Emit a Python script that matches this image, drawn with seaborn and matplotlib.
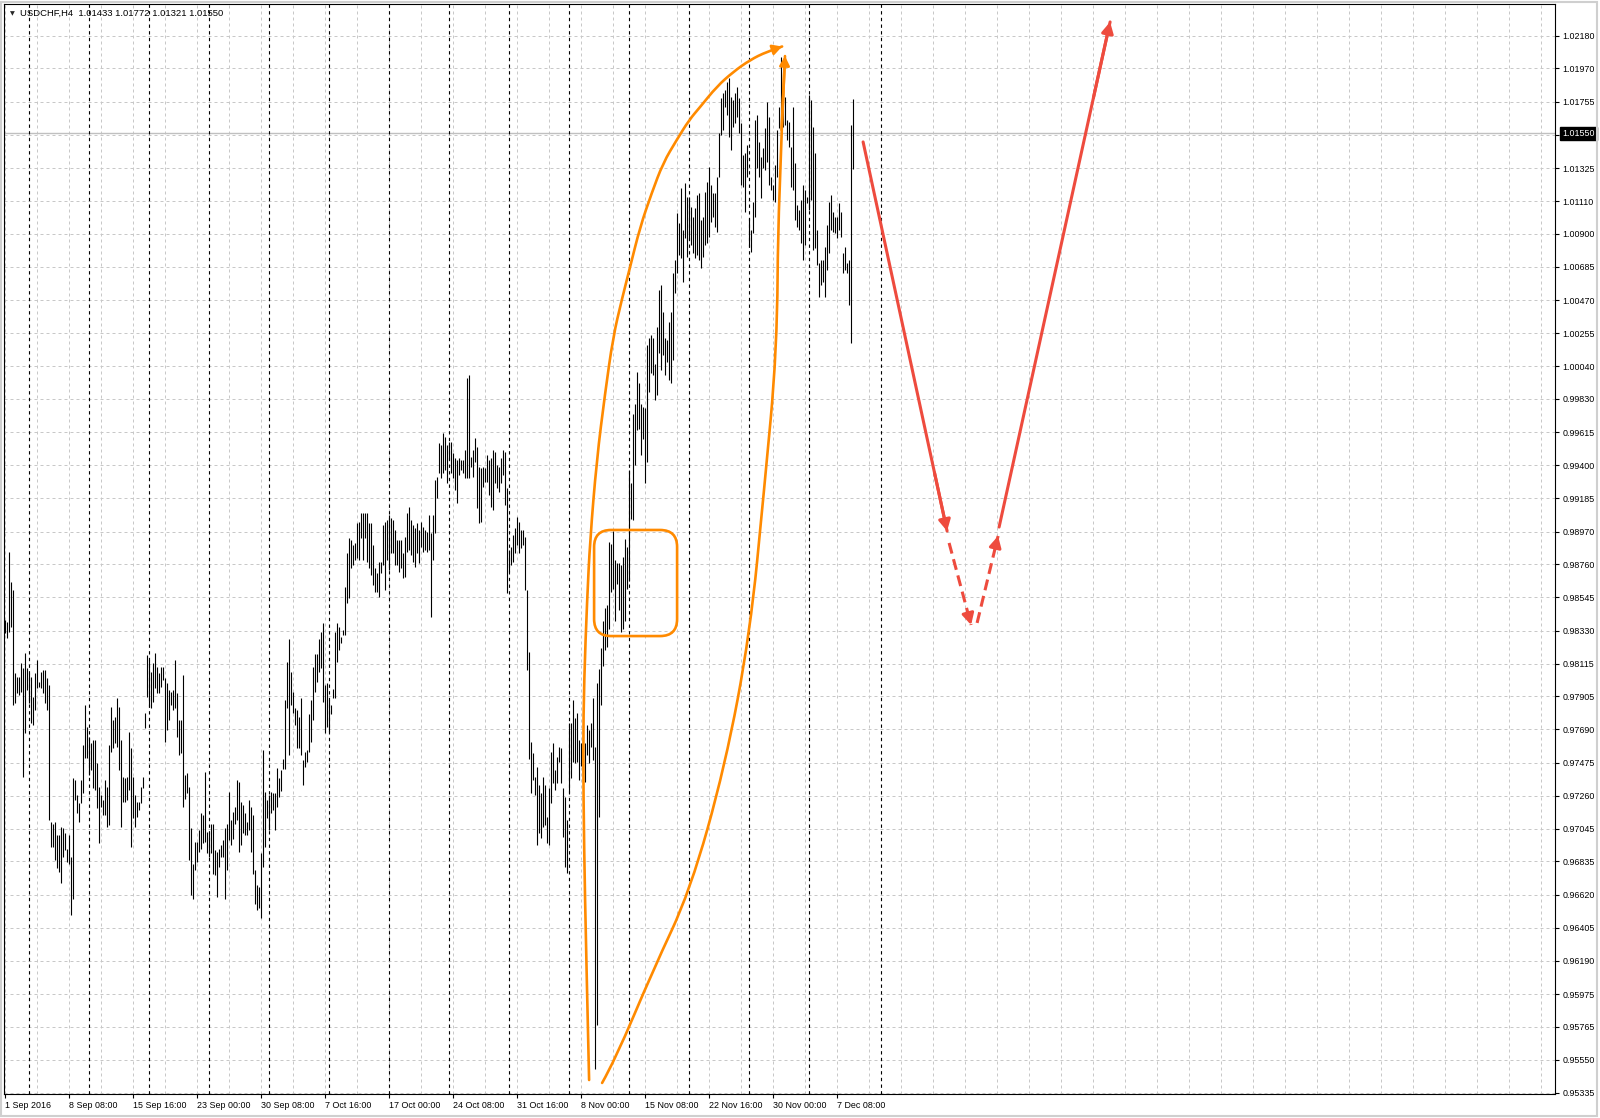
import numpy as np
import pandas as pd
import seaborn as sns
import matplotlib.pyplot as plt
from matplotlib.patches import FancyBboxPatch, Rectangle, PathPatch
from matplotlib.path import Path

sns.set_theme(style='white')
plt.rcParams['font.family'] = ['Liberation Sans', 'DejaVu Sans']

symbol = 'USDCHF,H4'
last_ohlc = [1.01433, 1.01772, 1.01321, 1.01550]
bid = 1.01550
first_day = '2016-09-01'
future_separator = 438

# H4 bars, high / low (1 Sep 2016 -> 8 Dec 2016)
highs = [
    0.98398, 0.98387, 0.98841, 0.98646, 0.98592, 0.98052, 0.98031, 0.98031, 0.98117, 0.98085,
    0.98182, 0.98085, 0.98052, 0.98031, 0.97901, 0.98052, 0.98139, 0.97998, 0.98063, 0.98074,
    0.98074, 0.98020, 0.97977, 0.97091, 0.97080, 0.97091, 0.97005, 0.97005, 0.97059, 0.97048,
    0.97016, 0.96918, 0.97005, 0.96864, 0.97372, 0.97361, 0.97264, 0.97210, 0.97361, 0.97588,
    0.97847, 0.97707, 0.97642, 0.97599, 0.97620, 0.97620, 0.97469, 0.97318, 0.97264, 0.97232,
    0.97361, 0.97318, 0.97588, 0.97836, 0.97750, 0.97772, 0.97890, 0.97836, 0.97620, 0.97383,
    0.97372, 0.97383, 0.97674, 0.97566, 0.97383, 0.97264, 0.97221, 0.97221, 0.97318, 0.97383,
    0.97793, 0.98171, 0.98139, 0.98063, 0.98117, 0.98182, 0.98096, 0.98052, 0.98096, 0.98096,
    0.98020, 0.97988, 0.97944, 0.97934, 0.97944, 0.98139, 0.97923, 0.97750, 0.97750, 0.98042,
    0.97394, 0.97404, 0.97318, 0.97048, 0.96821, 0.96962, 0.96962, 0.97037, 0.97145, 0.97134,
    0.97415, 0.97026, 0.97026, 0.97080, 0.97080, 0.96908, 0.96897, 0.96918, 0.96940, 0.96972,
    0.97048, 0.97080, 0.97286, 0.97102, 0.97156, 0.97188, 0.97361, 0.97350, 0.97221, 0.97199,
    0.97145, 0.97091, 0.97232, 0.97188, 0.97134, 0.96778, 0.96681, 0.96670, 0.96886, 0.97556,
    0.97286, 0.97232, 0.97264, 0.97286, 0.97275, 0.97275, 0.97437, 0.97372, 0.97425, 0.97501,
    0.97879, 0.98127, 0.98278, 0.98062, 0.97933, 0.97825, 0.97814, 0.97771, 0.97890, 0.97490,
    0.97544, 0.97555, 0.97792, 0.97879, 0.98095, 0.98181, 0.98181, 0.98278, 0.98322, 0.98376,
    0.97976, 0.97987, 0.97879, 0.97846, 0.97954, 0.98322, 0.98376, 0.98354, 0.98289, 0.98333,
    0.98613, 0.98829, 0.98926, 0.98916, 0.98883, 0.98894, 0.99024, 0.99034, 0.99088, 0.99088,
    0.99088, 0.99088, 0.99024, 0.99024, 0.98883, 0.98732, 0.98700, 0.98775, 0.98775, 0.99013,
    0.99034, 0.99045, 0.99078, 0.99056, 0.99045, 0.98980, 0.98916, 0.98916, 0.98916, 0.98829,
    0.98937, 0.99088, 0.99132, 0.99045, 0.99013, 0.98991, 0.99024, 0.98980, 0.99034, 0.99002,
    0.98980, 0.98970, 0.99078, 0.98959, 0.99078, 0.99304, 0.99326, 0.99542, 0.99531, 0.99607,
    0.99585, 0.99531, 0.99553, 0.99553, 0.99477, 0.99445, 0.99434, 0.99445, 0.99434, 0.99434,
    0.99499, 0.99963, 0.99985, 0.99456, 0.99499, 0.99574, 0.99520, 0.99391, 0.99380, 0.99391,
    0.99380, 0.99466, 0.99434, 0.99445, 0.99499, 0.99488, 0.99402, 0.99391, 0.99445, 0.99499,
    0.99488, 0.99250, 0.98851, 0.98872, 0.98948, 0.98991, 0.99067, 0.99034, 0.98980, 0.98980,
    0.98937, 0.98592, 0.98192, 0.97610, 0.97535, 0.97384, 0.97448, 0.97329, 0.97275, 0.97384,
    0.97329, 0.97124, 0.97308, 0.97545, 0.97599, 0.97427, 0.97513, 0.97578, 0.97567, 0.97308,
    0.97254, 0.97103, 0.97729, 0.97729, 0.97880, 0.97761, 0.97794, 0.97621, 0.97600, 0.97524,
    0.97600, 0.97718, 0.97686, 0.97729, 0.97891, 0.97578, 0.97988, 0.98083, 0.98219, 0.98390,
    0.98478, 0.98495, 0.98905, 0.98888, 0.98974, 0.98786, 0.98769, 0.98769, 0.98752, 0.98803,
    0.98923, 0.98871, 0.99368, 0.99282, 0.99735, 0.99800, 1.00005, 0.99930, 0.99800, 0.99779,
    0.99768, 1.00178, 1.00221, 1.00243, 1.00221, 1.00059, 1.00297, 1.00535, 1.00567, 1.00394,
    1.00221, 1.00211, 1.00329, 1.00394, 1.00643, 1.00729, 1.01031, 1.00967, 1.01193, 1.00923,
    1.01226, 1.01139, 1.01139, 1.01075, 1.01010, 1.01064, 1.01150, 1.01161, 1.00988, 1.01010,
    1.01172, 1.01237, 1.01334, 1.01215, 1.01161, 1.01161, 1.01269, 1.01549, 1.01776, 1.01809,
    1.01830, 1.01884, 1.01906, 1.01787, 1.01765, 1.01809, 1.01852, 1.01776, 1.01614, 1.01409,
    1.01420, 1.01474, 1.00999, 1.00923, 1.01107, 1.01636, 1.01668, 1.01495, 1.01398, 1.01452,
    1.01582, 1.01755, 1.01657, 1.01269, 1.01215, 1.01344, 1.01571, 1.01722, 1.02046, 1.01884,
    1.01787, 1.01636, 1.01625, 1.01463, 1.01722, 1.01355, 1.01085, 1.01053, 1.01117, 1.01215,
    1.01182, 1.01139, 1.01798, 1.01765, 1.01593, 1.01420, 1.00923, 1.00707, 1.00729, 1.00729,
    1.00815, 1.00955, 1.01107, 1.01150, 1.01042, 1.01009, 1.01009, 1.01096, 1.01042, 1.00772,
    1.00815, 1.00707, 1.00729, 1.01603, 1.01772,
]
lows = [
    0.98312, 0.98279, 0.98322, 0.98355, 0.97847, 0.97858, 0.97923, 0.97912, 0.97934, 0.97383,
    0.97664, 0.97944, 0.97858, 0.97728, 0.97718, 0.97815, 0.97955, 0.97966, 0.97955, 0.97923,
    0.97858, 0.97815, 0.97102, 0.96929, 0.96929, 0.96843, 0.96789, 0.96767, 0.96692, 0.96864,
    0.96908, 0.96832, 0.96821, 0.96486, 0.96594, 0.97232, 0.97145, 0.97091, 0.97210, 0.97275,
    0.97502, 0.97502, 0.97394, 0.97426, 0.97307, 0.97296, 0.97178, 0.96951, 0.97188, 0.97134,
    0.97134, 0.97059, 0.97070, 0.97545, 0.97566, 0.97599, 0.97577, 0.97426, 0.97059, 0.97221,
    0.97221, 0.97232, 0.97296, 0.96929, 0.97113, 0.97059, 0.97124, 0.97167, 0.97210, 0.97307,
    0.97696, 0.97901, 0.97836, 0.97826, 0.97869, 0.97955, 0.97923, 0.97923, 0.97966, 0.98009,
    0.97610, 0.97685, 0.97750, 0.97847, 0.97815, 0.97826, 0.97642, 0.97523, 0.97534, 0.97188,
    0.97242, 0.97275, 0.96843, 0.96616, 0.96594, 0.96778, 0.96832, 0.96897, 0.96918, 0.96951,
    0.96962, 0.96886, 0.96864, 0.96886, 0.96756, 0.96746, 0.96605, 0.96800, 0.96864, 0.96864,
    0.96594, 0.96778, 0.96972, 0.96940, 0.96983, 0.97080, 0.97102, 0.96897, 0.96940, 0.97016,
    0.97005, 0.97005, 0.97037, 0.96897, 0.96756, 0.96562, 0.96519, 0.96530, 0.96465, 0.96800,
    0.96929, 0.97113, 0.97037, 0.97145, 0.97167, 0.97037, 0.97188, 0.97253, 0.97290, 0.97436,
    0.97436, 0.97825, 0.97522, 0.97846, 0.97793, 0.97717, 0.97566, 0.97566, 0.97522, 0.97330,
    0.97447, 0.97479, 0.97544, 0.97609, 0.97749, 0.97933, 0.97998, 0.98062, 0.98084, 0.97868,
    0.97663, 0.97706, 0.97674, 0.97792, 0.97890, 0.97890, 0.98127, 0.98203, 0.98246, 0.98300,
    0.98300, 0.98505, 0.98538, 0.98732, 0.98754, 0.98786, 0.98797, 0.98786, 0.98926, 0.98786,
    0.98926, 0.98775, 0.98732, 0.98689, 0.98624, 0.98581, 0.98581, 0.98548, 0.98700, 0.98754,
    0.98592, 0.98786, 0.98721, 0.98829, 0.98829, 0.98754, 0.98754, 0.98710, 0.98732, 0.98667,
    0.98678, 0.98840, 0.98851, 0.98818, 0.98775, 0.98743, 0.98829, 0.98764, 0.98872, 0.98840,
    0.98851, 0.98840, 0.98851, 0.98419, 0.98786, 0.98959, 0.99186, 0.99348, 0.99315, 0.99348,
    0.99369, 0.99283, 0.99434, 0.99348, 0.99315, 0.99240, 0.99153, 0.99337, 0.99369, 0.99348,
    0.99315, 0.99315, 0.99315, 0.99391, 0.99326, 0.99423, 0.99121, 0.99024, 0.99034, 0.99261,
    0.99294, 0.99294, 0.99207, 0.99132, 0.99110, 0.99283, 0.99250, 0.99229, 0.99283, 0.99337,
    0.99142, 0.98570, 0.98710, 0.98754, 0.98775, 0.98829, 0.98883, 0.98829, 0.98862, 0.98883,
    0.98592, 0.98073, 0.97501, 0.97276, 0.97362, 0.97265, 0.96941, 0.97016, 0.96984, 0.97059,
    0.97070, 0.96951, 0.96941, 0.97210, 0.97340, 0.97297, 0.97340, 0.97480, 0.97340, 0.96995,
    0.96800, 0.96757, 0.97275, 0.97372, 0.97480, 0.97470, 0.97480, 0.97362, 0.97450, 0.97405,
    0.97351, 0.97524, 0.97470, 0.97578, 0.97491, 0.95493, 0.95774, 0.97124, 0.97848, 0.98101,
    0.98204, 0.98221, 0.98341, 0.98580, 0.98597, 0.98392, 0.98632, 0.98460, 0.98323, 0.98341,
    0.98392, 0.98597, 0.98650, 0.99055, 0.99044, 0.99401, 0.99627, 0.99638, 0.99465, 0.99573,
    0.99282, 0.99422, 0.99876, 0.99995, 0.99984, 0.99822, 0.99854, 1.00124, 1.00016, 1.00113,
    0.99984, 1.00070, 0.99951, 0.99930, 1.00081, 1.00513, 1.00643, 1.00761, 1.00740, 1.00589,
    1.00869, 1.00751, 1.00859, 1.00826, 1.00772, 1.00740, 1.00761, 1.00729, 1.00675, 1.00751,
    1.00826, 1.00837, 1.00880, 1.00977, 1.01009, 1.00945, 1.00912, 1.01269, 1.01539, 1.01571,
    1.01722, 1.01668, 1.01528, 1.01441, 1.01593, 1.01614, 1.01657, 1.01549, 1.01215, 1.01204,
    1.01042, 1.01269, 1.00815, 1.00783, 1.00901, 1.01009, 1.01323, 1.01269, 1.01128, 1.01323,
    1.01312, 1.01366, 1.01215, 1.01182, 1.01117, 1.01107, 1.01269, 1.01582, 1.01582, 1.01593,
    1.01603, 1.01506, 1.01463, 1.01204, 1.01182, 1.00988, 1.00945, 1.00923, 1.00837, 1.00729,
    1.00826, 1.01096, 1.01053, 1.01117, 1.00793, 1.00804, 1.00696, 1.00491, 1.00567, 1.00588,
    1.00491, 1.00664, 1.00772, 1.00923, 1.00912, 1.00901, 1.00869, 1.00923, 1.00880, 1.00642,
    1.00664, 1.00642, 1.00437, 1.00189, 1.01321,
]

price_ticks = [1.02180, 1.01970, 1.01755, 1.01540, 1.01325, 1.01110, 1.00900, 1.00685,
               1.00470, 1.00255, 1.00040, 0.99830, 0.99615, 0.99400, 0.99185, 0.98970,
               0.98760, 0.98545, 0.98330, 0.98115, 0.97905, 0.97690, 0.97475, 0.97260,
               0.97045, 0.96835, 0.96620, 0.96405, 0.96190, 0.95975, 0.95765, 0.95550,
               0.95335]

# hand drawn annotations (bar index, price)
orange_up_left = [(291.9, 0.95419), (290.4, 0.96261), (289.4, 0.96909), (288.9, 0.97556),
                  (289.4, 0.98010), (290.9, 0.98528), (292.4, 0.98916), (295.7, 0.99434),
                  (299.9, 0.99868), (303.9, 1.00231), (308.2, 1.00470), (312.4, 1.00684),
                  (317.4, 1.00943), (323.2, 1.01163), (328.9, 1.01358), (335.7, 1.01507),
                  (341.9, 1.01636), (347.4, 1.01720), (355.7, 1.01852), (363.9, 1.01947),
                  (372.4, 1.02025), (380.7, 1.02078), (388.4, 1.02112)]
orange_up_right = [(298.4, 0.95400), (304.9, 0.95549), (323.9, 0.96131), (342.4, 0.96643),
                   (359.9, 0.97453), (372.4, 0.98314), (379.4, 0.99240), (385.9, 1.00147),
                   (386.4, 1.01092), (389.85, 1.02050)]
orange_box = [(294.4, 0.98294), (335.9, 0.98981)]
red_arrows = [((428.9, 1.01494), (470.9, 0.98974), '-'),
              ((471.9, 0.98897), (482.9, 0.98366), '--'),
              ((485.9, 0.98379), (496.4, 0.98942), '--'),
              ((496.9, 0.99000), (552.4, 1.02271), '-')]

W, H = 1600, 1118
n = len(highs)
idx = np.arange(n)

days = pd.bdate_range(first_day, periods=100)
times = [d + pd.Timedelta(hours=4 * h) for d in days for h in range(6)]
label_idx = list(range(0, n, 32))
labels = [f"{times[i].day} {times[i]:%b %Y}" if i == 0 else f"{times[i].day} {times[i]:%b %H:%M}"
          for i in label_idx]
week_idx = [i for i, t in enumerate(times[:n]) if t.weekday() == 0 and t.hour == 0]
week_idx.append(future_separator)


def smooth_path(pts):
    # quadratic bezier through the midpoints of the sketched points
    verts, codes = [pts[0]], [Path.MOVETO]
    for k in range(1, len(pts) - 1):
        if k < len(pts) - 2:
            end = ((pts[k][0] + pts[k + 1][0]) / 2, (pts[k][1] + pts[k + 1][1]) / 2)
        else:
            end = pts[k + 1]
        verts += [pts[k], end]
        codes += [Path.CURVE3, Path.CURVE3]
    return Path(verts, codes)


fig = plt.figure(figsize=(W / 100, H / 100), dpi=100)
fig.patch.set_facecolor('white')
ax = fig.add_axes([4.3 / W, 1 - 1094 / H, (1555 - 4.3) / W, (1094 - 4) / H])
ax.set_facecolor('white')
ax.set_xlim(-0.5, 774.85)
ax.set_ylim(0.953284, 1.023872)

grid_kw = dict(color='#c8c8c8', linewidth=0.72, linestyle=(0, (3, 3)), zorder=1)
for p in price_ticks:
    ax.axhline(p, **grid_kw)
for g in range(0, 776, 16):
    ax.axvline(g, **grid_kw)
ax.axhline(bid, color='#c0c0c0', linewidth=1.0, zorder=1.5)
for w in week_idx:
    ax.axvline(w, color='black', linewidth=0.8, linestyle=(0, (3, 3)), zorder=2)

ax.vlines(idx, lows, highs, colors='black', linewidth=0.8, zorder=3)

# annotations
orange = '#ff8a00'
red = '#ee4b3e'
for pts in (orange_up_left, orange_up_right):
    ax.add_patch(PathPatch(smooth_path(pts), fill=False, edgecolor=orange, linewidth=1.9,
                           capstyle='round', joinstyle='round', zorder=5))
    tip, prev = pts[-1], pts[-2]
    back = (tip[0] - (tip[0] - prev[0]) * 0.5, tip[1] - (tip[1] - prev[1]) * 0.5)
    ax.annotate('', xy=tip, xytext=back,
                arrowprops=dict(arrowstyle='-|>,head_length=0.55,head_width=0.3',
                                color=orange, lw=1.9, shrinkA=0, shrinkB=0,
                                mutation_scale=10), zorder=5)
(bx0, by0), (bx1, by1) = orange_box
aspect = 6.476e-5 / 0.5
ax.add_patch(FancyBboxPatch((bx0, by0), bx1 - bx0, by1 - by0,
                            boxstyle='round,pad=0,rounding_size=8.5',
                            mutation_aspect=aspect, fill=False,
                            edgecolor=orange, linewidth=1.9, zorder=5))
for start, end, ls in red_arrows:
    ax.plot([start[0], end[0]], [start[1], end[1]], color=red, linewidth=2.2,
            linestyle=ls if ls == '-' else (0, (3.6, 1.9)), zorder=6)
    fx = start[0] + (end[0] - start[0]) * 0.85
    fy = start[1] + (end[1] - start[1]) * 0.85
    ax.annotate('', xy=end, xytext=(fx, fy),
                arrowprops=dict(arrowstyle='-|>,head_length=0.6,head_width=0.32',
                                color=red, lw=2.2, shrinkA=0, shrinkB=0,
                                mutation_scale=11), zorder=6)

# axes
for s in ax.spines.values():
    s.set_color('black')
    s.set_linewidth(0.8)
    s.set_visible(True)
ax.yaxis.tick_right()
ax.set_yticks(price_ticks)
ax.set_yticklabels(['' if abs(p - 1.01540) < 1e-6 else f'{p:.5f}' for p in price_ticks])
ax.set_xticks(label_idx)
ax.set_xticklabels(labels, ha='left')
ax.tick_params(axis='y', which='both', right=True, left=False, direction='out',
               length=3, width=0.8, pad=2.5, labelsize=6.4, colors='black')
ax.tick_params(axis='x', which='both', bottom=True, direction='out',
               length=3, width=0.8, pad=2, labelsize=6.4, colors='black')
ax.grid(False)

ax.text(1.0045, bid, f'{bid:.5f}', transform=ax.get_yaxis_transform(), ha='left',
        va='center', fontsize=6.4, color='white', zorder=10, clip_on=False,
        bbox=dict(boxstyle='square,pad=0.25', facecolor='black', edgecolor='black'))

fig.text(10 / W, 1 - 13.5 / H, '\u25bc', fontsize=4.5, va='center', ha='left',
         family=['DejaVu Sans'])
fig.text(20 / W, 1 - 13 / H, symbol + '  ' + ' '.join(f'{v:.5f}' for v in last_ohlc),
         fontsize=6.8, va='center', ha='left', color='black')

fig.patches.append(Rectangle((1 / W, 2 / H), 1596 / W, 1114 / H, transform=fig.transFigure,
                             fill=False, edgecolor='#cfcfcf', linewidth=1.5))

fig.savefig('out.png', dpi=100)
